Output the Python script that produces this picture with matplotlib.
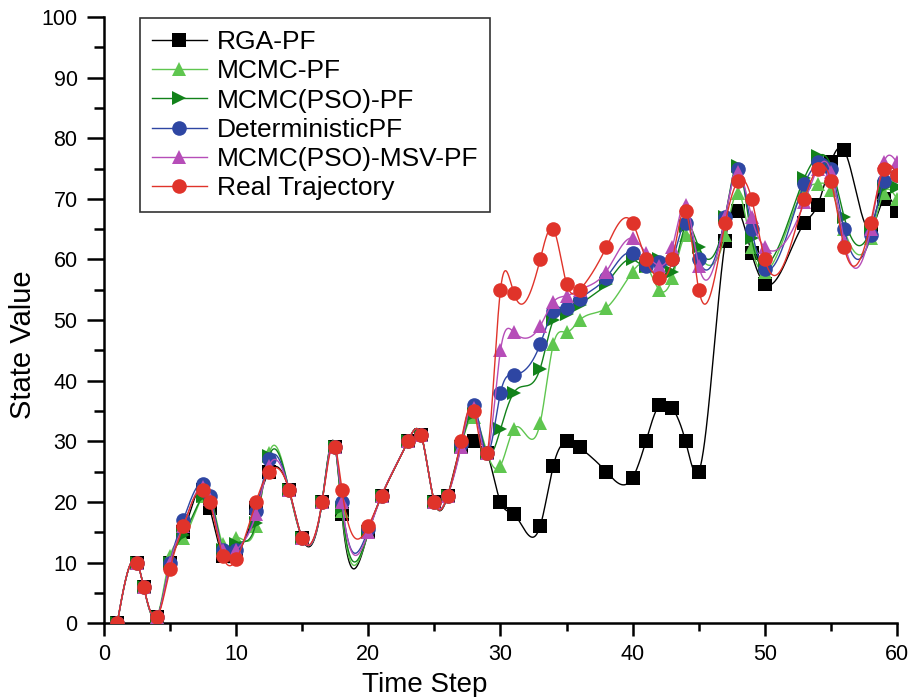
import numpy as np
import matplotlib
matplotlib.use('Agg')
import matplotlib.pyplot as plt
from matplotlib.ticker import MultipleLocator

plt.rcParams['font.family'] = ['Liberation Sans', 'DejaVu Sans']

time_steps = [1, 2.5, 3, 4, 5, 6, 7.5, 8, 9, 10,
              11.5, 12.5, 14, 15, 16.5, 17.5, 18, 20, 21, 23,
              24, 25, 26, 27, 28, 29, 30, 31, 33, 34,
              35, 36, 38, 40, 41, 42, 43, 44, 45, 47,
              48, 49, 50, 53, 54, 55, 56, 58, 59, 60]

rga_pf = [0, 10, 6, 1, 10, 15, 22, 19, 11, 11,
          19, 25, 22, 14, 20, 29, 18, 15, 21, 30,
          31, 20, 21, 29, 30, 28, 20, 18, 16, 26,
          30, 29, 25, 24, 30, 36, 35.5, 30, 25, 63,
          68, 61, 56, 66, 69, 76, 78, 65, 70, 68]

mcmc_pf = [0, 10, 6, 1, 11, 14, 21, 21, 13, 14,
           16, 28, 22, 14, 20, 29, 18.5, 15, 21, 30,
           31, 20, 21, 29, 34, 28, 26, 32, 33, 46,
           48, 50, 52, 58, 59, 55, 57, 64, 61, 64,
           71, 62, 58, 71.5, 72.5, 71.5, 65, 63.5, 71, 70]

mcmc_pso_pf = [0, 10, 6, 1, 10, 14.5, 21, 21, 12, 13,
               16.5, 27.5, 22, 14, 20, 29, 19, 15, 21, 30,
               31, 20, 21, 29, 34.5, 28, 32, 38, 42, 50,
               51, 52.5, 56, 60, 59, 60, 58, 65.5, 62, 67,
               75.5, 63.5, 59, 73.5, 77, 75.5, 67, 65, 72, 72]

deterministic_pf = [0, 10, 6, 1, 10, 17, 23, 21, 12, 12,
                    18.5, 27, 22, 14, 20, 29, 20, 15.5, 21, 30,
                    31, 20, 21, 29.5, 36, 28, 38, 41, 46, 51.5,
                    52, 53.5, 57, 61, 59, 59.5, 60, 66, 60, 67,
                    75, 65, 58.5, 72.5, 76, 75, 65, 64, 73, 74]

mcmc_pso_msv_pf = [0, 10, 6, 1, 10, 16, 22.5, 20.5, 12, 12,
                   18, 26, 22, 14, 20, 29, 20, 15, 21, 30,
                   31, 20, 21, 29, 35.5, 28, 45, 48, 49, 53,
                   54, 55, 58, 63.5, 61, 59, 62, 69, 59, 67,
                   74.5, 67, 62, 69.5, 75, 74.5, 63, 65, 76, 76]

real_trajectory = [0, 10, 6, 1, 9, 16, 22, 20, 11, 10.5,
                   20, 25, 22, 14, 20, 29, 22, 16, 21, 30,
                   31, 20, 21, 30, 35, 28, 55, 54.5, 60, 65,
                   56, 55, 62, 66, 60, 57, 60, 68, 55, 66,
                   73, 70, 60, 70, 75, 73, 62, 66, 75, 74]

series_names = ['RGA-PF', 'MCMC-PF', 'MCMC(PSO)-PF', 'DeterministicPF',
                'MCMC(PSO)-MSV-PF', 'Real Trajectory']


def natural_spline(x, y, xs):
    x = np.asarray(x, float)
    y = np.asarray(y, float)
    n = len(x)
    h = np.diff(x)
    A = np.zeros((n, n))
    b = np.zeros(n)
    A[0, 0] = 1
    A[-1, -1] = 1
    for i in range(1, n - 1):
        A[i, i - 1] = h[i - 1]
        A[i, i] = 2 * (h[i - 1] + h[i])
        A[i, i + 1] = h[i]
        b[i] = 6 * ((y[i + 1] - y[i]) / h[i] - (y[i] - y[i - 1]) / h[i - 1])
    M = np.linalg.solve(A, b)
    idx = np.clip(np.searchsorted(x, xs) - 1, 0, n - 2)
    x0, x1 = x[idx], x[idx + 1]
    y0, y1 = y[idx], y[idx + 1]
    m0, m1 = M[idx], M[idx + 1]
    hh = x1 - x0
    t0 = x1 - xs
    t1 = xs - x0
    return (m0 * t0 ** 3 / (6 * hh) + m1 * t1 ** 3 / (6 * hh)
            + (y0 / hh - m0 * hh / 6) * t0 + (y1 / hh - m1 * hh / 6) * t1)


fig = plt.figure(figsize=(9.17, 6.97), dpi=100)
ax = fig.add_axes([0.1134, 0.106, 0.8648, 0.8696])

styles = [
    dict(color='#000000', marker='s'),
    dict(color='#5fc64f', marker='^'),
    dict(color='#12821a', marker='>'),
    dict(color='#2e46a3', marker='o'),
    dict(color='#b64db8', marker='^'),
    dict(color='#e0332a', marker='o'),
]
data = [rga_pf, mcmc_pf, mcmc_pso_pf, deterministic_pf, mcmc_pso_msv_pf, real_trajectory]

ms = 10.5
xs = np.linspace(time_steps[0], time_steps[-1], 3000)
for i, (name, ys, st) in enumerate(zip(series_names, data, styles)):
    sm = natural_spline(time_steps, ys, xs)
    ax.plot(xs, sm, color=st['color'], lw=1.0, zorder=2 + i)
    ax.plot(time_steps, ys, linestyle='none', marker=st['marker'], color=st['color'],
            markersize=ms, markeredgewidth=0, zorder=2 + i)
    ax.plot([], [], color=st['color'], lw=1.0, marker=st['marker'], markersize=ms,
            markeredgewidth=0, label=name)

ax.set_xlim(0, 60)
ax.set_ylim(0, 100)
ax.xaxis.set_major_locator(MultipleLocator(10))
ax.xaxis.set_minor_locator(MultipleLocator(5))
ax.yaxis.set_major_locator(MultipleLocator(10))
ax.yaxis.set_minor_locator(MultipleLocator(5))
for s in ['top', 'right']:
    ax.spines[s].set_visible(False)
for s in ['left', 'bottom']:
    ax.spines[s].set_linewidth(1.8)
ax.tick_params(axis='x', which='major', direction='out', length=9, width=1.8,
               labelsize=15.5, pad=6)
ax.tick_params(axis='x', which='minor', direction='out', length=6, width=1.8)
ax.tick_params(axis='y', which='major', direction='out', length=12, width=1.8,
               labelsize=15.5, pad=7)
ax.tick_params(axis='y', which='minor', direction='out', length=7, width=1.8)
ax.set_xlabel('Time Step', fontsize=20)
ax.set_ylabel('State Value', fontsize=21)
ax.xaxis.set_label_coords(0.405, -0.080)
ax.yaxis.set_label_coords(-0.084, 0.46)

leg = ax.legend(loc='upper left', bbox_to_anchor=(0.045, 0.998), borderaxespad=0,
                fontsize=19, frameon=True, fancybox=False, handlelength=2.1,
                labelspacing=0.2, handletextpad=0.38, borderpad=0.45)
leg.get_frame().set_edgecolor('black')
leg.get_frame().set_linewidth(1.2)

fig.savefig('out.png', dpi=100)
